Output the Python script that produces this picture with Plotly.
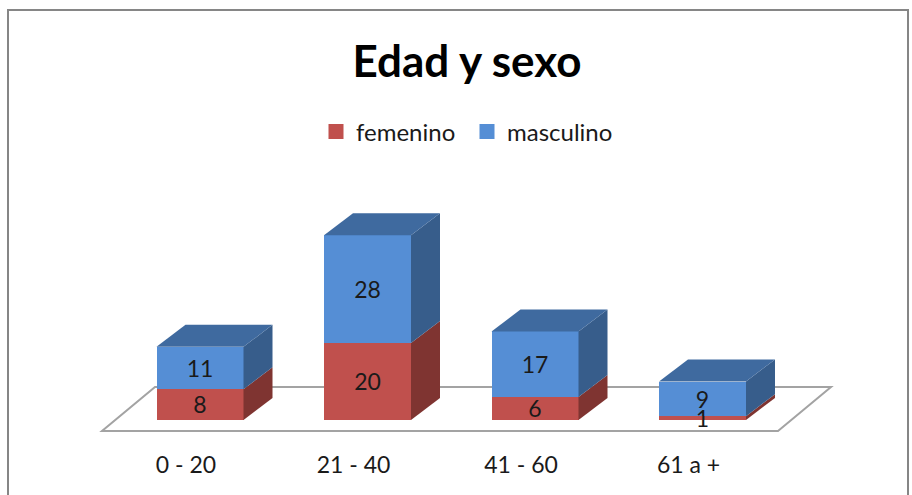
import plotly.graph_objects as go

categories = ["0 - 20", "21 - 40", "41 - 60", "61 a +"]
femenino = [8, 20, 6, 1]
masculino = [11, 28, 17, 9]

W, H, BOTTOM = 912, 495, 55
PX_X = 167.5            # pixels per category
PX_Y = 3.85             # pixels per value unit
X0_PX, Y0_PX = 200, 420 # pixel of first category / of value zero
BAR_W = 87 / PX_X
DX, DY = 29 / PX_X, 22 / PX_Y
INK = "#1a1a1a"
RED, BLUE = "#C0504D", "#558ED5"
LABEL_SHIFT = -3 / PX_Y
TICK_SHIFT = -14 / PX_X

x_range = [-X0_PX / PX_X, (W - X0_PX) / PX_X]
y_range = [-(H - BOTTOM - Y0_PX) / PX_Y, Y0_PX / PX_Y]
xs = list(range(len(categories)))

fig = go.Figure()
fig.add_bar(x=xs, y=femenino, name="femenino", marker=dict(color=RED, line_width=0), width=BAR_W, showlegend=False)
fig.add_bar(x=xs, y=masculino, name="masculino", marker=dict(color=BLUE, line_width=0), width=BAR_W, showlegend=False)


def poly(px, py, color):
    fig.add_scatter(x=px + px[:1], y=py + py[:1], mode="lines", fill="toself", fillcolor=color,
                    line=dict(width=0, color=color), showlegend=False, hoverinfo="skip")


for i, (f, m) in enumerate(zip(femenino, masculino)):
    r = i + BAR_W / 2
    l = i - BAR_W / 2
    poly([r, r + DX, r + DX, r], [0, DY, f + DY, f], "#7F3431")
    poly([r, r + DX, r + DX, r], [f, f + DY, f + m + DY, f + m], "#375D8B")
    poly([l, r, r + DX, l + DX], [f + m, f + m, f + m + DY, f + m + DY], "#3F6A9F")

fig.add_scatter(x=xs, y=[v / 2 + LABEL_SHIFT for v in femenino], text=[str(v) for v in femenino], mode="text",
                textfont=dict(family="Lato", size=23, color=INK), showlegend=False, hoverinfo="skip", cliponaxis=False)
fig.add_scatter(x=xs, y=[f + m / 2 + LABEL_SHIFT for f, m in zip(femenino, masculino)], text=[str(v) for v in masculino], mode="text",
                textfont=dict(family="Lato", size=23, color=INK), showlegend=False, hoverinfo="skip", cliponaxis=False)

# legend keys with the larger square swatches of the reference
for name, color in (("femenino", RED), ("masculino", BLUE)):
    fig.add_scatter(x=[None], y=[None], mode="markers", name=name,
                    marker=dict(symbol="square", size=15, color=color, line_width=0))

# floor of the 3D chart, drawn behind the bars
fl, fr = (102 - X0_PX) / PX_X, (778 - X0_PX) / PX_X
fy = (Y0_PX - 431) / PX_Y
bdx, bdy = 53 / PX_X, 44 / PX_Y
floor_path = f"M{fl},{fy} L{fr},{fy} L{fr + bdx},{fy + bdy} L{fl + bdx},{fy + bdy} Z"

fig.update_layout(
    width=W, height=H, margin=dict(l=0, r=0, t=0, b=BOTTOM),
    paper_bgcolor="white", plot_bgcolor="white", barmode="stack", showlegend=True,
    font=dict(family="Lato", color=INK),
    title=dict(text="<b>Edad y sexo</b>", x=467 / W, xanchor="center", y=1 - 62 / H, yanchor="middle",
               font=dict(family="Lato", size=44, color="#000000")),
    legend=dict(orientation="h", x=316 / W, xanchor="left", y=1 - 132 / (H - BOTTOM), yanchor="middle",
                font=dict(family="Lato", size=24, color=INK), itemwidth=30, traceorder="normal",
                entrywidth=106, entrywidthmode="pixels", bgcolor="rgba(0,0,0,0)"),
    xaxis=dict(range=x_range, tickmode="array", tickvals=[x + TICK_SHIFT for x in xs], ticktext=categories,
               showgrid=False, zeroline=False, showline=False, ticks="outside", ticklen=4,
               tickcolor="rgba(0,0,0,0)", tickfont=dict(family="Lato", size=23, color=INK)),
    yaxis=dict(range=y_range, visible=False),
    shapes=[
        dict(type="path", path=floor_path, xref="x", yref="y", layer="below",
             line=dict(color="#A3A3A3", width=2), fillcolor="white"),
        dict(type="rect", xref="paper", yref="paper", x0=8 / W, x1=908 / W, y0=-0.2, y1=1 - 10 / (H - BOTTOM),
             line=dict(color="#868686", width=2), fillcolor="rgba(0,0,0,0)", layer="below"),
    ],
)
fig.write_html("out.html", config={"displayModeBar": False},
               post_script="document.body.style.margin='0';document.body.style.overflow='hidden';")
